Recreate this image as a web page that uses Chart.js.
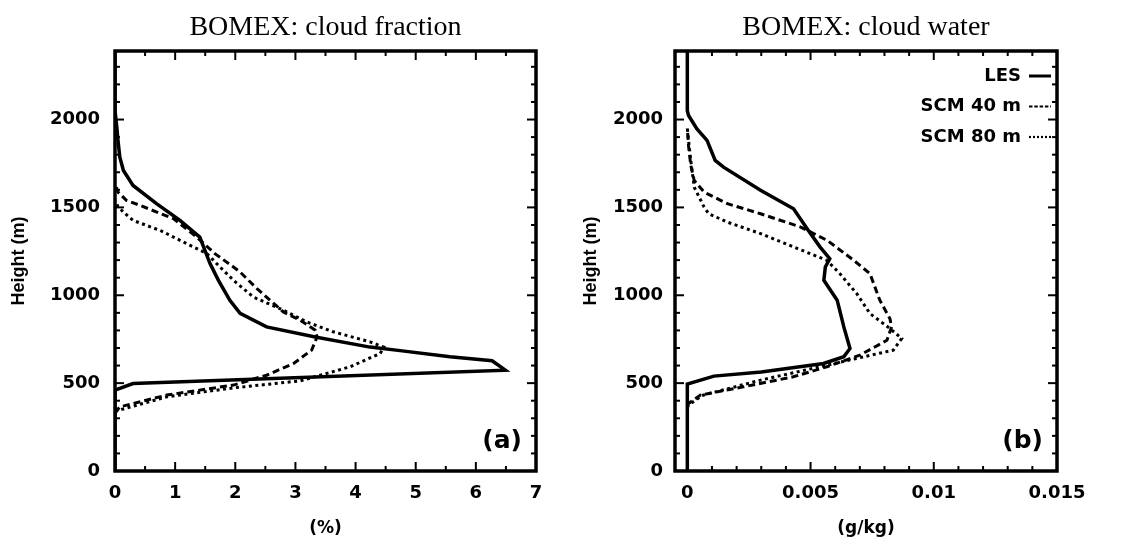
<!DOCTYPE html>
<html><head><meta charset="utf-8">
<script src="https://cdn.jsdelivr.net/npm/chart.js@4.4.1/dist/chart.umd.min.js"></script>
<style>
html,body{margin:0;padding:0;background:#fff;}
#wrap{position:relative;width:1133px;height:539px;overflow:hidden;background:#fff;}
.pane{position:absolute;top:0;height:539px;}
#pa{left:0;width:560px;}
#pb{left:560px;width:573px;}
</style></head><body>
<div id="wrap">
  <div class="pane" id="pa"><canvas id="ca"></canvas></div>
  <div class="pane" id="pb"><canvas id="cb"></canvas></div>
</div>
<script>
// ---------- data ----------
const seriesLabels = ['LES', 'SCM 40 m', 'SCM 80 m'];

// (a) cloud fraction (%) vs height (m)
const cfLesHeight = [0, 460, 498, 574, 627, 650, 685, 705, 763, 820, 897, 971, 1085, 1180, 1331, 1426, 1521, 1625, 1710, 1786, 1880, 1956, 2050, 2390];
const cfLesValue  = [0, 0, 0.30, 6.49, 6.27, 5.57, 4.74, 4.24, 3.33, 2.52, 2.08, 1.91, 1.72, 1.58, 1.41, 1.08, 0.69, 0.30, 0.14, 0.08, 0.05, 0.03, 0, 0];
const cf40Height  = [330, 365, 432, 489, 545, 612, 688, 763, 801, 858, 905, 1038, 1132, 1161, 1237, 1331, 1436, 1511, 1540, 1587, 1640];
const cf40Value   = [0, 0.08, 0.86, 1.97, 2.52, 2.97, 3.27, 3.36, 3.33, 3.08, 2.80, 2.36, 2.08, 1.97, 1.66, 1.36, 0.97, 0.42, 0.19, 0.05, 0];
const cf80Height  = [340, 422, 473, 513, 593, 669, 705, 735, 792, 848, 915, 990, 1085, 1180, 1237, 1284, 1369, 1426, 1473, 1505, 1540];
const cf80Value   = [0, 0.86, 1.97, 3.08, 3.91, 4.41, 4.47, 4.24, 3.63, 3.19, 2.80, 2.30, 1.97, 1.69, 1.53, 1.25, 0.75, 0.30, 0.14, 0.05, 0];

// (b) cloud water (g/kg) vs height (m)
const cwLesHeight = [0, 495, 540, 564, 612, 650, 697, 820, 972, 1085, 1161, 1208, 1274, 1369, 1492, 1597, 1729, 1767, 1881, 1947, 2023, 2050, 2390];
const cwLesValue  = [0, 0, 0.00108, 0.0030, 0.00553, 0.00635, 0.0066, 0.00635, 0.00608, 0.00554, 0.0056, 0.00578, 0.00539, 0.00491, 0.00431, 0.00297, 0.00147, 0.00113, 0.0008, 0.00039, 0.00005, 0, 0];
const cw40Height  = [370, 384, 432, 479, 536, 593, 659, 744, 820, 867, 972, 1123, 1199, 1312, 1388, 1464, 1521, 1587, 1653, 1740, 1850, 1950];
const cw40Value   = [0, 0.00005, 0.00053, 0.00228, 0.0043, 0.00566, 0.0070, 0.0081, 0.00829, 0.00822, 0.00781, 0.00741, 0.00675, 0.00568, 0.0046, 0.00297, 0.00163, 0.00068, 0.00028, 0.00014, 0.00005, 0];
const cw80Height  = [360, 375, 430, 517, 602, 688, 754, 811, 896, 1010, 1123, 1199, 1237, 1351, 1417, 1464, 1502, 1615, 1767, 1881, 1950];
const cw80Value   = [0, 0.00005, 0.0006, 0.00297, 0.00566, 0.00836, 0.0087, 0.00822, 0.00741, 0.00687, 0.00619, 0.00566, 0.00498, 0.00297, 0.00161, 0.00087, 0.00068, 0.00028, 0.00014, 0.00005, 0];

// ticks
const heightTicks      = [0, 500, 1000, 1500, 2000];
const heightTickLabels = ['0', '500', '1000', '1500', '2000'];
const cfTicks      = [0, 1, 2, 3, 4, 5, 6, 7];
const cfTickLabels = ['0', '1', '2', '3', '4', '5', '6', '7'];
const cwTicks      = [0, 0.005, 0.01, 0.015];
const cwTickLabels = ['0', '0.005', '0.01', '0.015'];

// ---------- helpers ----------
const zip = (xs, ys) => xs.map((x, i) => ({x: x, y: ys[i]}));
const lineStyles = [
  {borderWidth: 3.5, borderDash: [], legendWidth: 3, legendDash: []},
  {borderWidth: 3, borderDash: [7, 4], legendWidth: 2.2, legendDash: [3.5, 1.8]},
  {borderWidth: 3, borderDash: [3, 3.5], legendWidth: 2.2, legendDash: [2, 2]}
];
function makeDatasets(pairs) {
  return pairs.map((p, i) => Object.assign({
    label: seriesLabels[i],
    data: zip(p[1], p[0]),
    showLine: true, pointRadius: 0, borderColor: '#000', backgroundColor: '#000',
    fill: false, tension: 0
  }, lineStyles[i]));
}
const tickFont = {family: 'DejaVu Sans', size: 18, weight: 'bold'};

const framePlugin = {
  id: 'frameTicks',
  afterDraw(chart, args, o) {
    const {ctx, chartArea: {left, right, top, bottom}, scales: {x, y}} = chart;
    ctx.save();
    ctx.strokeStyle = '#000';
    ctx.lineCap = 'butt';
    ctx.setLineDash([]);
    ctx.lineWidth = 2;
    const seg = (x1, y1, x2, y2) => { ctx.beginPath(); ctx.moveTo(x1, y1); ctx.lineTo(x2, y2); ctx.stroke(); };
    const each = (scale, minor, major, fn) => {
      const start = Math.ceil((scale.min - 1e-12) / minor);
      for (let k = start; k * minor <= scale.max + 1e-12; k++) {
        const v = k * minor;
        const isMajor = Math.abs(v / major - Math.round(v / major)) < 1e-6;
        fn(scale.getPixelForValue(v), isMajor ? o.majorLen : o.minorLen);
      }
    };
    each(x, o.xMinor, o.xMajor, (p, len) => { seg(p, bottom, p, bottom - len); seg(p, top, p, top + len); });
    each(y, o.yMinor, o.yMajor, (p, len) => { seg(left, p, left + len, p); seg(right, p, right - len, p); });
    ctx.lineWidth = 3.5;
    ctx.strokeRect(left, top, right - left, bottom - top);
    ctx.fillStyle = '#000';
    ctx.font = 'bold 25px "DejaVu Sans"';
    ctx.textAlign = 'right';
    ctx.textBaseline = 'middle';
    ctx.fillText(o.tag, right - 14, bottom - 30);
    if (o.legend) {
      ctx.font = 'bold 18px "DejaVu Sans"';
      chart.data.datasets.forEach((ds, i) => {
        const yy = top + o.legend.y0 + i * o.legend.dy;
        ctx.fillText(ds.label, right - o.legend.textEnd, yy);
        ctx.lineWidth = ds.legendWidth;
        ctx.setLineDash(ds.legendDash);
        seg(right - o.legend.lineStart, yy, right - o.legend.lineEnd, yy);
        ctx.setLineDash([]);
      });
    }
    ctx.restore();
  }
};

function makeChart(id, cfg) {
  return new Chart(document.getElementById(id), {
    type: 'scatter',
    data: {datasets: cfg.datasets},
    plugins: [framePlugin],
    options: {
      responsive: true, maintainAspectRatio: false, animation: false, devicePixelRatio: 1,
      layout: {padding: cfg.padding},
      plugins: {
        legend: {display: false},
        tooltip: {enabled: false},
        title: {
          display: true, text: cfg.title, fullSize: false, color: '#000',
          font: {family: 'Liberation Serif', size: 28, weight: 'normal', lineHeight: 1.2},
          padding: {top: 11.2, bottom: 6.2}
        },
        frameTicks: cfg.frame
      },
      scales: {
        x: {
          type: 'linear', min: cfg.xMin, max: cfg.xMax,
          grid: {display: false, drawTicks: false}, border: {display: false},
          afterBuildTicks: s => { s.ticks = cfg.xTicks.map(v => ({value: v})); },
          afterFit: s => { s.height = 68; },
          ticks: {color: '#000', font: tickFont, padding: 12, maxRotation: 0,
                  callback: v => cfg.xLabels[cfg.xTicks.indexOf(v)]},
          title: {display: true, text: cfg.xTitle, color: '#000',
                  font: {family: 'DejaVu Sans', size: 17, weight: 'bold', lineHeight: 1.2},
                  padding: {top: 0, bottom: 0}}
        },
        y: {
          type: 'linear', min: 0, max: 2390,
          grid: {display: false, drawTicks: false}, border: {display: false},
          afterBuildTicks: s => { s.ticks = heightTicks.map(v => ({value: v})); },
          afterFit: s => { s.width = cfg.yWidth; },
          ticks: {color: '#000', font: tickFont, padding: cfg.yPad,
                  callback: v => heightTickLabels[heightTicks.indexOf(v)]},
          title: {display: true, text: 'Height (m)', color: '#000',
                  font: {family: 'Liberation Sans', size: 18, weight: 'bold', lineHeight: 1.2},
                  padding: 0}
        }
      }
    }
  });
}

makeChart('ca', {
  title: 'BOMEX: cloud fraction',
  datasets: makeDatasets([[cfLesHeight, cfLesValue], [cf40Height, cf40Value], [cf80Height, cf80Value]]),
  padding: {left: 8, right: 24, top: 0, bottom: 0},
  yWidth: 107, yPad: 15,
  xMin: 0, xMax: 7, xTicks: cfTicks, xLabels: cfTickLabels, xTitle: '(%)',
  frame: {xMinor: 0.5, xMajor: 1, yMinor: 100, yMajor: 500, majorLen: 9, minorLen: 5, tag: '(a)'}
});

makeChart('cb', {
  title: 'BOMEX: cloud water',
  datasets: makeDatasets([[cwLesHeight, cwLesValue], [cw40Height, cw40Value], [cw80Height, cw80Value]]),
  padding: {left: 20, right: 76, top: 0, bottom: 0},
  yWidth: 95, yPad: 12,
  xMin: -0.0005, xMax: 0.015, xTicks: cwTicks, xLabels: cwTickLabels, xTitle: '(g/kg)',
  frame: {xMinor: 0.001, xMajor: 0.005, yMinor: 100, yMajor: 500, majorLen: 9, minorLen: 5, tag: '(b)',
          legend: {y0: 25, dy: 30.5, textEnd: 36, lineStart: 28, lineEnd: 6}}
});
</script>
</body></html>
